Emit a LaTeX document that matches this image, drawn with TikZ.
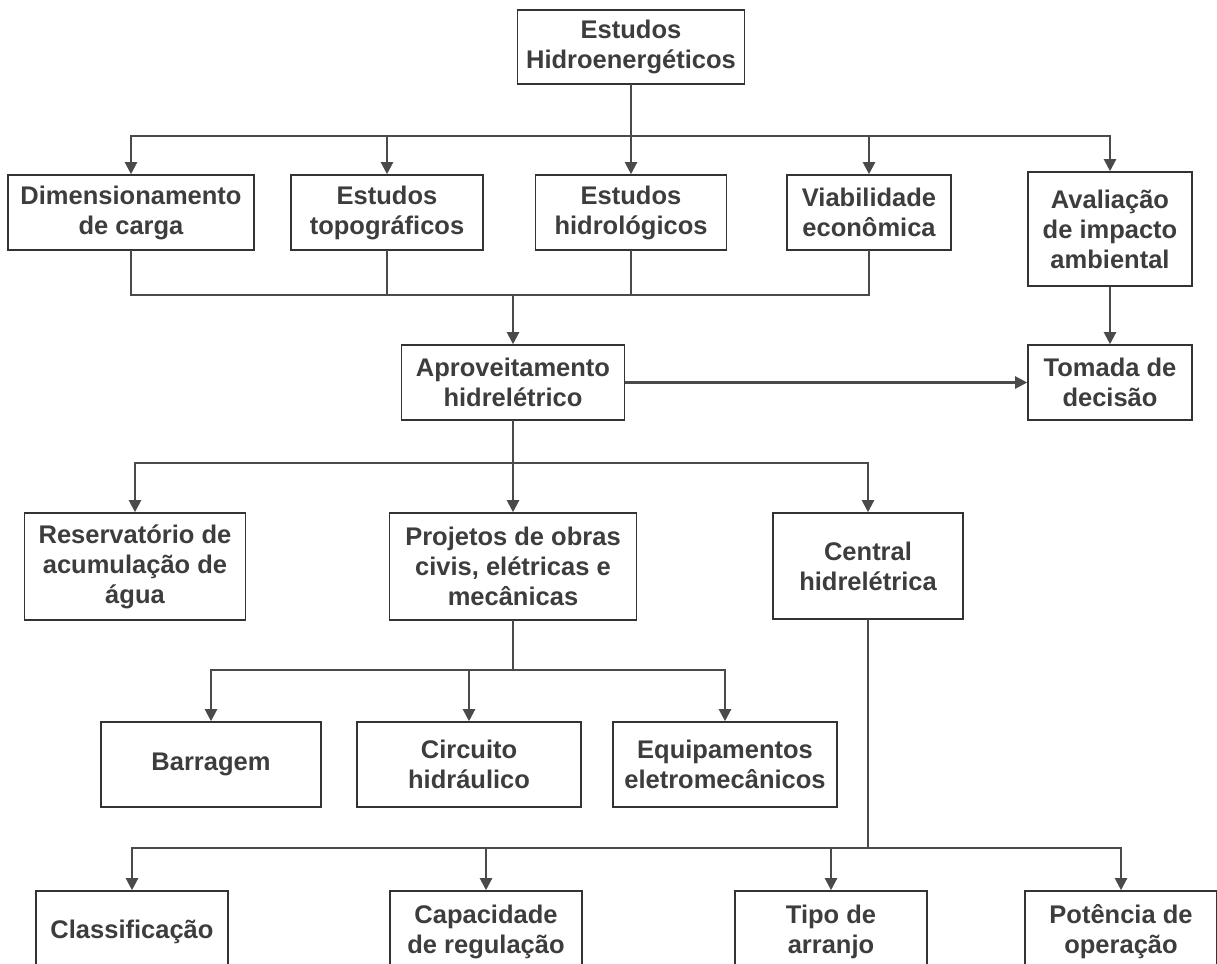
\documentclass[tikz,border=0pt]{standalone}
\usepackage{fontspec}
\setmainfont{Liberation Sans}
\usetikzlibrary{arrows.meta}
\definecolor{txt}{HTML}{3D3D3D}
\definecolor{ln}{HTML}{4A4A4A}
\definecolor{bd}{HTML}{333333}
\tikzset{
  box/.style={draw=bd, line width=1.6pt, fill=white, align=center, inner sep=0pt,
    text=txt, font=\fontsize{25.5}{30}\selectfont\bfseries},
  conn/.style={draw=ln, line width=2.2pt, line cap=rect},
  arr/.style={draw=ln, line width=2.2pt, -{Triangle[length=12pt,width=12pt]}},
}
\begin{document}
\begin{tikzpicture}[x=1pt,y=-1pt]
\useasboundingbox (0,0) rectangle (1217,963);
\clip (0,0) rectangle (1217,963);
\fill[white] (0,0) rectangle (1217,963);

% nodes
\node[box, minimum width=227pt, minimum height=74pt] (top) at (631,47) {Estudos\\Hidroenergéticos};

\node[box, minimum width=246pt, minimum height=75pt] (dim) at (131,212.5) {Dimensionamento\\de carga};
\node[box, minimum width=192pt, minimum height=75pt] (topo) at (387,212.5) {Estudos\\topográficos};
\node[box, minimum width=191pt, minimum height=75pt] (hidro) at (631,212.5) {Estudos\\hidrológicos};
\node[box, minimum width=164pt, minimum height=75pt] (viab) at (869,212.5) {Viabilidade\\econômica};
\node[box, minimum width=164pt, minimum height=114pt] (aval) at (1110,229) {Avaliação\\de impacto\\ambiental};

\node[box, minimum width=223pt, minimum height=75pt] (aprov) at (513,382.5) {Aproveitamento\\hidrelétrico};
\node[box, minimum width=164pt, minimum height=75pt] (tomada) at (1110,382.5) {Tomada de\\decisão};

\node[box, minimum width=221pt, minimum height=107pt] (reserv) at (135,566.5) {Reservatório de\\acumulação de\\água};
\node[box, minimum width=247pt, minimum height=107pt] (proj) at (513,566.5) {Projetos de obras\\civis, elétricas e\\mecânicas};
\node[box, minimum width=190pt, minimum height=106pt] (central) at (868,566) {Central\\hidrelétrica};

\node[box, minimum width=220pt, minimum height=85pt] (barr) at (211,764.5) {Barragem};
\node[box, minimum width=224pt, minimum height=85pt] (circ) at (469,764.5) {Circuito\\hidráulico};
\node[box, minimum width=224pt, minimum height=85pt] (equip) at (725,764.5) {Equipamentos\\eletromecânicos};

\node[box, minimum width=192pt, minimum height=82pt] (class) at (132,932) {Classificação};
\node[box, minimum width=192pt, minimum height=82pt] (capac) at (486,932) {Capacidade\\de regulação};
\node[box, minimum width=192pt, minimum height=82pt] (tipo) at (831,932) {Tipo de\\arranjo};
\node[box, minimum width=192pt, minimum height=82pt] (pot) at (1121,932) {Potência de\\operação};

% bus coordinates
\coordinate (bus1) at (0,136);
\coordinate (bus2) at (0,295);
\coordinate (bus3) at (0,463);
\coordinate (bus4) at (0,670);
\coordinate (bus5) at (0,848);

% level 1 -> level 2
\draw[conn] (top.south) -- (top.south |- bus1);
\draw[conn] (dim.north |- bus1) -- (aval.north |- bus1);
\foreach \n in {dim,topo,hidro,viab,aval}
  \draw[arr] (\n.north |- bus1) -- (\n.north);

% level 2 -> aproveitamento
\foreach \n in {dim,topo,hidro,viab}
  \draw[conn] (\n.south) -- (\n.south |- bus2);
\draw[conn] (dim.south |- bus2) -- (viab.south |- bus2);
\draw[arr] (aprov.north |- bus2) -- (aprov.north);

% aproveitamento -> tomada, avaliacao -> tomada
\draw[arr] (aprov.east) -- (tomada.west);
\draw[arr] (aval.south) -- (tomada.north);

% aproveitamento -> level 3
\draw[conn] (aprov.south) -- (aprov.south |- bus3);
\draw[conn] (reserv.north |- bus3) -- (central.north |- bus3);
\foreach \n in {reserv,proj,central}
  \draw[arr] (\n.north |- bus3) -- (\n.north);

% projetos -> level 4
\draw[conn] (proj.south) -- (proj.south |- bus4);
\draw[conn] (barr.north |- bus4) -- (equip.north |- bus4);
\foreach \n in {barr,circ,equip}
  \draw[arr] (\n.north |- bus4) -- (\n.north);

% central -> level 5
\draw[conn] (central.south) -- (central.south |- bus5);
\draw[conn] (class.north |- bus5) -- (pot.north |- bus5);
\foreach \n in {class,capac,tipo,pot}
  \draw[arr] (\n.north |- bus5) -- (\n.north);
\end{tikzpicture}
\end{document}
